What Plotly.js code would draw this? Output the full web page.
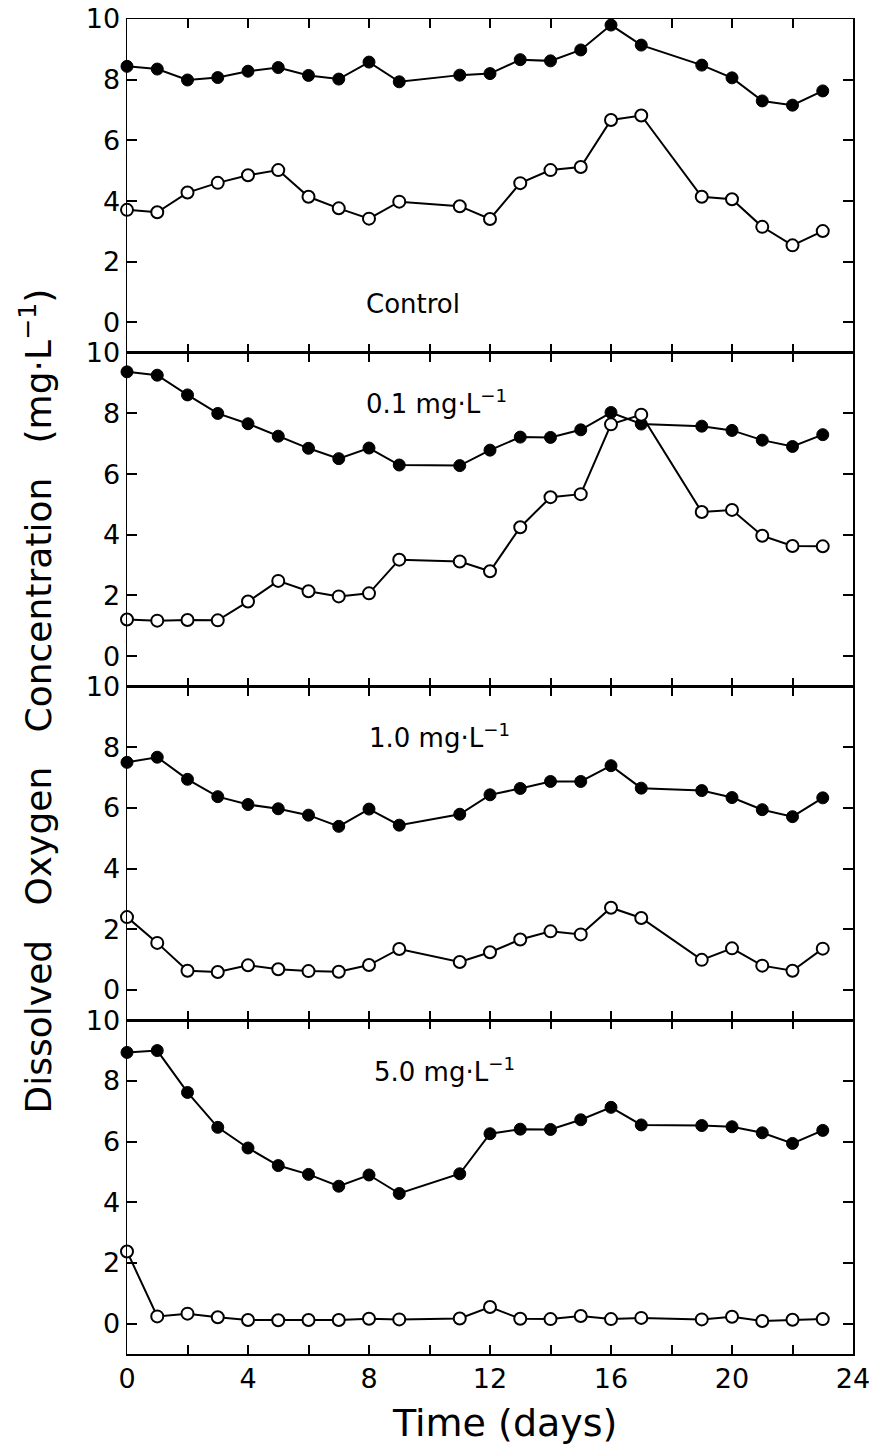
<!DOCTYPE html>
<html>
<head>
<meta charset="utf-8">
<script src="https://cdn.plot.ly/plotly-3.0.1.min.js"></script>
<style>html,body{margin:0;padding:0;background:#fff;}#chart{width:882px;height:1455px;}</style>
</head>
<body>
<div id="chart"></div>
<script>
// Sampling days
const days = [0,1,2,3,4,5,6,7,8,9,11,12,13,14,15,16,17,19,20,21,22,23];

// Control
const controlFilled = [8.44,8.35,7.99,8.07,8.28,8.40,8.14,8.02,8.58,7.93,8.15,8.20,8.66,8.62,8.98,9.80,9.14,8.48,8.06,7.30,7.16,7.63];
const controlOpen   = [3.71,3.63,4.28,4.60,4.85,5.02,4.14,3.76,3.42,3.98,3.83,3.41,4.59,5.02,5.12,6.67,6.82,4.14,4.06,3.15,2.54,3.01];

// 0.1 mg/L
const dose01Filled = [9.37,9.26,8.61,8.00,7.66,7.25,6.85,6.51,6.86,6.30,6.28,6.79,7.22,7.21,7.46,8.03,7.65,7.58,7.44,7.12,6.91,7.30];
const dose01Open   = [1.21,1.17,1.19,1.18,1.80,2.48,2.14,1.97,2.07,3.18,3.12,2.80,4.25,5.24,5.34,7.64,7.96,4.75,4.82,3.97,3.63,3.62];

// 1.0 mg/L
const dose10Filled = [7.50,7.67,6.94,6.37,6.11,5.97,5.76,5.39,5.96,5.43,5.79,6.43,6.64,6.87,6.87,7.39,6.65,6.57,6.34,5.94,5.71,6.33];
const dose10Open   = [2.40,1.55,0.63,0.59,0.81,0.68,0.62,0.60,0.82,1.35,0.92,1.24,1.66,1.93,1.83,2.71,2.37,0.99,1.37,0.80,0.63,1.36];

// 5.0 mg/L
const dose50Filled = [8.94,9.00,7.62,6.47,5.79,5.21,4.92,4.53,4.90,4.29,4.94,6.26,6.41,6.40,6.72,7.13,6.55,6.53,6.49,6.29,5.94,6.37];
const dose50Open   = [2.38,0.24,0.33,0.21,0.12,0.11,0.12,0.12,0.16,0.14,0.17,0.55,0.16,0.15,0.25,0.15,0.19,0.14,0.23,0.09,0.13,0.15];

const panelLabels = ["Control", "0.1 mg\u00b7L<sup>\u22121</sup>", "1.0 mg\u00b7L<sup>\u22121</sup>", "5.0 mg\u00b7L<sup>\u22121</sup>"];
const xTickVals = [0,4,8,12,16,20,24];
const xTickText = ["0","4","8","12","16","20","24"];
const yTickVals = [0,2,4,6,8,10];
const yTickText = ["0","2","4","6","8","10"];
const yTitle = "Dissolved\u00a0\u00a0\u00a0Oxygen\u00a0\u00a0\u00a0Concentration\u00a0\u00a0\u00a0(mg\u00b7L<sup>\u22121</sup>)";
const xTitle = "Time (days)";

const FONT = "DejaVu Sans";
const panels = [
  {filled: controlFilled, open: controlOpen},
  {filled: dose01Filled, open: dose01Open},
  {filled: dose10Filled, open: dose10Open},
  {filled: dose50Filled, open: dose50Open}
];

const traces = [];
panels.forEach((p, i) => {
  const xa = i === 0 ? 'x' : 'x' + (i + 1);
  const ya = i === 0 ? 'y' : 'y' + (i + 1);
  traces.push({
    x: days, y: p.filled, xaxis: xa, yaxis: ya, type: 'scatter', mode: 'lines+markers',
    line: {color: '#000', width: 2}, cliponaxis: false,
    marker: {symbol: 'circle', size: 12, color: '#000', line: {color: '#000', width: 1}},
    showlegend: false, hoverinfo: 'skip'
  });
  traces.push({
    x: days, y: p.open, xaxis: xa, yaxis: ya, type: 'scatter', mode: 'lines+markers',
    line: {color: '#000', width: 2}, cliponaxis: false,
    marker: {symbol: 'circle', size: 12, color: '#fff', line: {color: '#000', width: 2}},
    showlegend: false, hoverinfo: 'skip'
  });
});

const layout = {
  width: 882, height: 1455,
  margin: {l: 127, r: 29, t: 19, b: 101},
  paper_bgcolor: '#fff', plot_bgcolor: '#fff',
  font: {family: FONT, color: '#000', size: 26},
  showlegend: false,
  annotations: []
};

const labelPos = [
  {x: 7.85, y: 0.6},
  {x: 7.85, y: 8.38},
  {x: 7.95, y: 8.37},
  {x: 8.1, y: 8.36}
];

for (let i = 0; i < 4; i++) {
  const sfx = i === 0 ? '' : String(i + 1);
  const top = 1 - i * 0.25;
  const bottom = top - 0.25;
  layout['xaxis' + sfx] = {
    domain: [0, 1], anchor: 'y' + sfx, range: [0, 24],
    showline: true, linewidth: 1.5, linecolor: '#000', mirror: 'ticks',
    ticks: 'inside', ticklen: 9, tickwidth: 2, tickcolor: '#000',
    tickmode: 'array', tickvals: xTickVals, ticktext: xTickText,
    minor: {tickmode: 'linear', tick0: 0, dtick: 2, ticks: 'inside', ticklen: 9, tickwidth: 2, tickcolor: '#000', showgrid: false},
    showticklabels: i === 3, tickfont: {family: FONT, size: 27, color: '#000'},
    showgrid: false, zeroline: false, fixedrange: true
  };
  layout['yaxis' + sfx] = {
    domain: [Math.max(0, bottom), Math.min(1, top)], anchor: 'x' + sfx, range: [-1, 10],
    showline: true, linewidth: 1.5, linecolor: '#000', mirror: 'ticks',
    ticks: 'inside', ticklen: 10, tickwidth: 2, tickcolor: '#000',
    tickmode: 'array', tickvals: yTickVals, ticktext: yTickText,
    tickfont: {family: FONT, size: 27, color: '#000'},
    showgrid: false, zeroline: false, fixedrange: true
  };
  layout.annotations.push({
    xref: 'x' + sfx, yref: 'y' + sfx, x: labelPos[i].x, y: labelPos[i].y,
    xanchor: 'left', yanchor: 'middle', showarrow: false,
    text: panelLabels[i], font: {family: FONT, size: 26, color: '#000'}
  });
}

layout.annotations.push({
  xref: 'paper', yref: 'paper', x: -0.125, y: 0.489,
  xanchor: 'center', yanchor: 'middle', showarrow: false, textangle: -90,
  text: yTitle, font: {family: FONT, size: 36, color: '#000'}
});
layout.annotations.push({
  xref: 'paper', yref: 'paper', x: 0.52, y: -0.0517,
  xanchor: 'center', yanchor: 'middle', showarrow: false,
  text: xTitle, font: {family: FONT, size: 38, color: '#000'}
});

Plotly.newPlot('chart', traces, layout, {staticPlot: true, displayModeBar: false});
</script>
</body>
</html>
